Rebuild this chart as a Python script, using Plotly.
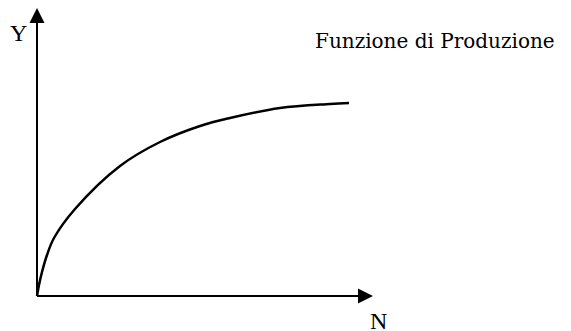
import plotly.graph_objects as go

# Production function data (N = labour, Y = output), in chart units
N_vals = [0, 2, 5, 10, 17, 38, 83, 123, 163, 193, 243, 293, 312]
Y_vals = [0, 11, 24, 41, 58, 87, 130, 154, 170, 178, 188, 192, 193]

x_axis_end = 336
y_axis_end = 288
title_text = "Funzione di Produzione"
x_label = "N"
y_label = "Y"

fig = go.Figure()
fig.add_trace(go.Scatter(x=N_vals, y=Y_vals, mode="lines",
                         line=dict(color="black", width=2.5, shape="spline", smoothing=1.0),
                         hoverinfo="skip", showlegend=False))

head = 15
half = 7.5
shapes = [
    dict(type="line", x0=0, y0=0, x1=0, y1=y_axis_end - head + 1, line=dict(color="black", width=2)),
    dict(type="line", x0=0, y0=0, x1=x_axis_end - head + 1, y1=0, line=dict(color="black", width=2)),
    dict(type="path",
         path=f"M {-half},{y_axis_end - head} L {half},{y_axis_end - head} L 0,{y_axis_end} Z",
         fillcolor="black", line=dict(color="black", width=0)),
    dict(type="path",
         path=f"M {x_axis_end - head},{-half} L {x_axis_end - head},{half} L {x_axis_end},0 Z",
         fillcolor="black", line=dict(color="black", width=0)),
]

annotations = [
    dict(x=-19, y=263, text=y_label, showarrow=False, xanchor="center", yanchor="middle",
         font=dict(family="Liberation Serif", size=24, color="black")),
    dict(x=341, y=-25, text=x_label, showarrow=False, xanchor="center", yanchor="middle",
         font=dict(family="Liberation Serif", size=24, color="black")),
    dict(x=276, y=255, text=title_text, showarrow=False, xanchor="left", yanchor="middle",
         font=dict(family="DejaVu Serif", size=20, color="black")),
]

fig.update_layout(
    width=571, height=331, autosize=False,
    margin=dict(l=0, r=0, t=0, b=0),
    paper_bgcolor="white", plot_bgcolor="white",
    xaxis=dict(range=[-29, 542], visible=False, fixedrange=True),
    yaxis=dict(range=[-43, 288], visible=False, fixedrange=True),
    shapes=shapes, annotations=annotations,
    showlegend=False,
)

fig.write_html("out.html")
